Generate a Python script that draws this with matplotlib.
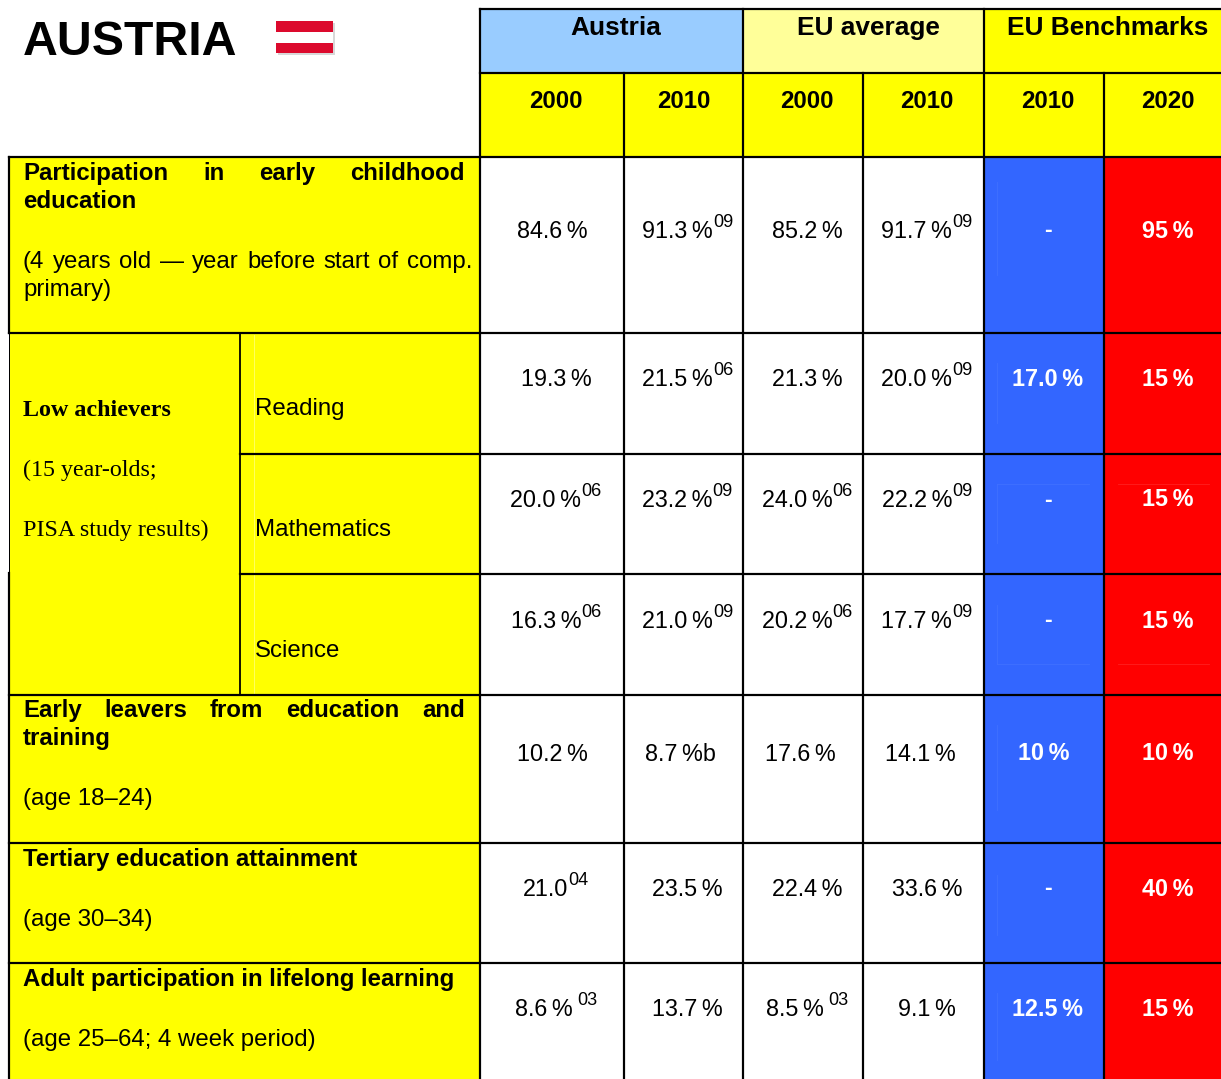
#!/usr/bin/env python3
"""
plot.py — Austria education benchmarks table, drawn with matplotlib
"""

import matplotlib
matplotlib.use("Agg")
import matplotlib.pyplot as plt
from matplotlib.patches import Rectangle

# ==============================================================================
# DATA
# ==============================================================================
title = "AUSTRIA"
group_headers = ["Austria", "EU average", "EU Benchmarks"]
year_headers = ["2000", "2010", "2000", "2010", "2010", "2020"]

austria_2000 = ["84.6 %", "19.3 %", "20.0 %", "16.3 %", "10.2 %", "21.0", "8.6 %"]
austria_2000_sup = ["", "", "06", "06", "", "04", "03"]
austria_2010 = ["91.3 %", "21.5 %", "23.2 %", "21.0 %", "8.7 %b", "23.5 %", "13.7 %"]
austria_2010_sup = ["09", "06", "09", "09", "", "", ""]
eu_2000 = ["85.2 %", "21.3 %", "24.0 %", "20.2 %", "17.6 %", "22.4 %", "8.5 %"]
eu_2000_sup = ["", "", "06", "06", "", "", "03"]
eu_2010 = ["91.7 %", "20.0 %", "22.2 %", "17.7 %", "14.1 %", "33.6 %", "9.1 %"]
eu_2010_sup = ["09", "09", "09", "09", "", "", ""]
bench_2010 = ["-", "17.0 %", "-", "-", "10 %", "-", "12.5 %"]
bench_2020 = ["95 %", "15 %", "15 %", "15 %", "10 %", "40 %", "15 %"]

subject_labels = ["Reading", "Mathematics", "Science"]
low_achievers = ["Low achievers", "(15 year-olds;", "PISA study results)"]

# ==============================================================================
# LAYOUT (image pixels, y going down)
# ==============================================================================
W, H = 1221, 1079
TEXT_CX = [556, 687.5, 807, 927, 1048, 1168]
VALUE_BASE = [238, 386, 507, 628, 761, 896, 1016]
# cells the original did not centre like the rest of their column: (row, col) -> x
CX_SHIFT = {(0, 0): 552, (4, 0): 552, (4, 1): 680, (4, 2): 800, (4, 3): 920, (4, 4): 1044}

YELLOW = "#FFFF00"
PALE = "#FFFF99"
SKY = "#99CCFF"
BLUE = "#3366FF"
RED = "#FF0000"

PX = 0.72  # px -> pt at dpi 100
SANS = "Liberation Sans"
SERIF = "Liberation Serif"

fig = plt.figure(figsize=(W / 100, H / 100), dpi=100)
ax = fig.add_axes([0, 0, 1, 1])
ax.set_xlim(0, W)
ax.set_ylim(H, 0)
ax.axis("off")


def box(x0, y0, x1, y1, color):
    ax.add_patch(Rectangle((x0, y0), x1 - x0, y1 - y0, fc=color, ec="none", zorder=1))


def line(x0, y0, x1, y1, lw=2.2):
    ax.plot([x0, x1], [y0, y1], color="black", lw=lw * PX, zorder=3,
            solid_capstyle="projecting")


def txt(x, y, s, size=24, weight="normal", family=SANS, ha="left", color="black"):
    return ax.text(x, y, s, fontsize=size * PX, fontweight=weight, family=family,
                   ha=ha, va="baseline", color=color, zorder=4)


def width(t):
    return t.get_window_extent(fig.canvas.get_renderer()).width


def justified(x0, x1, y, s, **kw):
    # spread the words of a line so it fills x0..x1
    words = s.split()
    items = [txt(x0, y, w, **kw) for w in words]
    sizes = [width(t) for t in items]
    gap = (x1 - x0 - sum(sizes)) / (len(words) - 1)
    x = x0
    for t, w in zip(items, sizes):
        t.set_x(x)
        x += w + gap


def value(cx, y, s, sup="", gap=0, **kw):
    t = txt(cx, y, s, **kw)
    w = width(t)
    if not sup:
        t.set_ha("center")
        return
    s2 = txt(cx, y - 11, sup, size=18)
    w2 = width(s2)
    x = cx - (w + gap + w2) / 2
    t.set_x(x)
    s2.set_x(x + w + gap)


# ==============================================================================
# BACKGROUNDS
# ==============================================================================
box(480, 9, 743, 73, SKY)
box(743, 9, 984, 73, PALE)
box(984, 9, W, 73, YELLOW)
box(480, 73, W, 157, YELLOW)
box(9, 157, 480, H, YELLOW)
box(984, 157, 1104, H, BLUE)
box(1104, 157, W, H, RED)

# flag
box(278, 23, 335, 55, "#D8D8D8")
box(276, 21, 333, 53, "#DC0A2D")
box(276, 32, 333, 43, "white")

# faint scan lines left in the original cells
ax.plot([254, 254], [335, 693], color="#FFFF70", lw=0.6, zorder=2)
for x, y0, y1 in [(997, 182, 275), (997, 363, 423), (997, 484, 543), (997, 605, 664),
                  (997, 725, 810), (997, 875, 935), (997, 993, 1060)]:
    ax.plot([x, x], [y0, y1], color="#4070FF", lw=0.6, zorder=2)
for y in [484, 664]:
    ax.plot([997, 1089], [y, y], color="#4070FF", lw=0.6, zorder=2)
    ax.plot([1118, 1209], [y, y], color="#FF2020", lw=0.6, zorder=2)

# ==============================================================================
# GRID LINES
# ==============================================================================
line(480, 9, W, 9)
line(480, 73, W, 73)
for x in [480, 743, 984]:
    line(x, 9, x, H)
for x in [624, 863, 1104]:
    line(x, 73, x, H)
line(9, 157, 9, 333)
line(9, 333, 9, 573, lw=1)
line(9, 573, 9, H)
for y in [157, 333, 695, 843, 963]:
    line(9, y, W, y)
for y in [454, 574]:
    line(240, y, W, y)
line(240, 333, 240, 695, lw=1.8)

# ==============================================================================
# HEADERS
# ==============================================================================
txt(23, 55, title, size=48.2, weight="bold")
for cx, s in zip([616, 868, 1107.5], group_headers):
    txt(cx, 35, s, size=26.3, weight="bold", ha="center")
for cx, s in zip([556, 684, 807, 927, 1048, 1168], year_headers):
    txt(cx, 108, s, weight="bold", ha="center")

# ==============================================================================
# ROW LABELS
# ==============================================================================
justified(23, 465, 180, "Participation in early childhood", weight="bold")
txt(23, 208, "education", weight="bold")
justified(23, 472, 268, "(4 years old — year before start of comp.")
txt(23, 296, "primary)")

txt(23, 416, low_achievers[0], size=24, weight="bold", family=SERIF)
txt(23, 476, low_achievers[1], size=24, family=SERIF)
txt(23, 536, low_achievers[2], size=24, family=SERIF)
for y, s in zip([415, 536, 657], subject_labels):
    txt(255, y, s)

justified(23, 465, 717, "Early leavers from education and", weight="bold")
txt(23, 745, "training", weight="bold")
txt(23, 805, "(age 18–24)")
txt(23, 866, "Tertiary education attainment", weight="bold")
txt(23, 926, "(age 30–34)")
txt(23, 986, "Adult participation in lifelong learning", weight="bold")
txt(23, 1046, "(age 25–64; 4 week period)")

# ==============================================================================
# VALUES
# ==============================================================================
plain_cols = [(austria_2000, austria_2000_sup), (austria_2010, austria_2010_sup),
              (eu_2000, eu_2000_sup), (eu_2010, eu_2010_sup)]
for c, (vals, sups) in enumerate(plain_cols):
    for r, (y, v, sp) in enumerate(zip(VALUE_BASE, vals, sups)):
        cx = CX_SHIFT.get((r, c), TEXT_CX[c])
        value(cx, y, v.replace(" ", "\u2009"), sp, gap=5 if sp == "03" else 0, size=23.4)

for c, vals in zip([4, 5], [bench_2010, bench_2020]):
    for r, (y, v) in enumerate(zip(VALUE_BASE, vals)):
        cx = CX_SHIFT.get((r, c), TEXT_CX[c])
        txt(cx, y - 0.5, v.replace(" ", "\u2009"), size=23.4, weight="bold", ha="center", color="white")

fig.savefig("out.png", dpi=100)
